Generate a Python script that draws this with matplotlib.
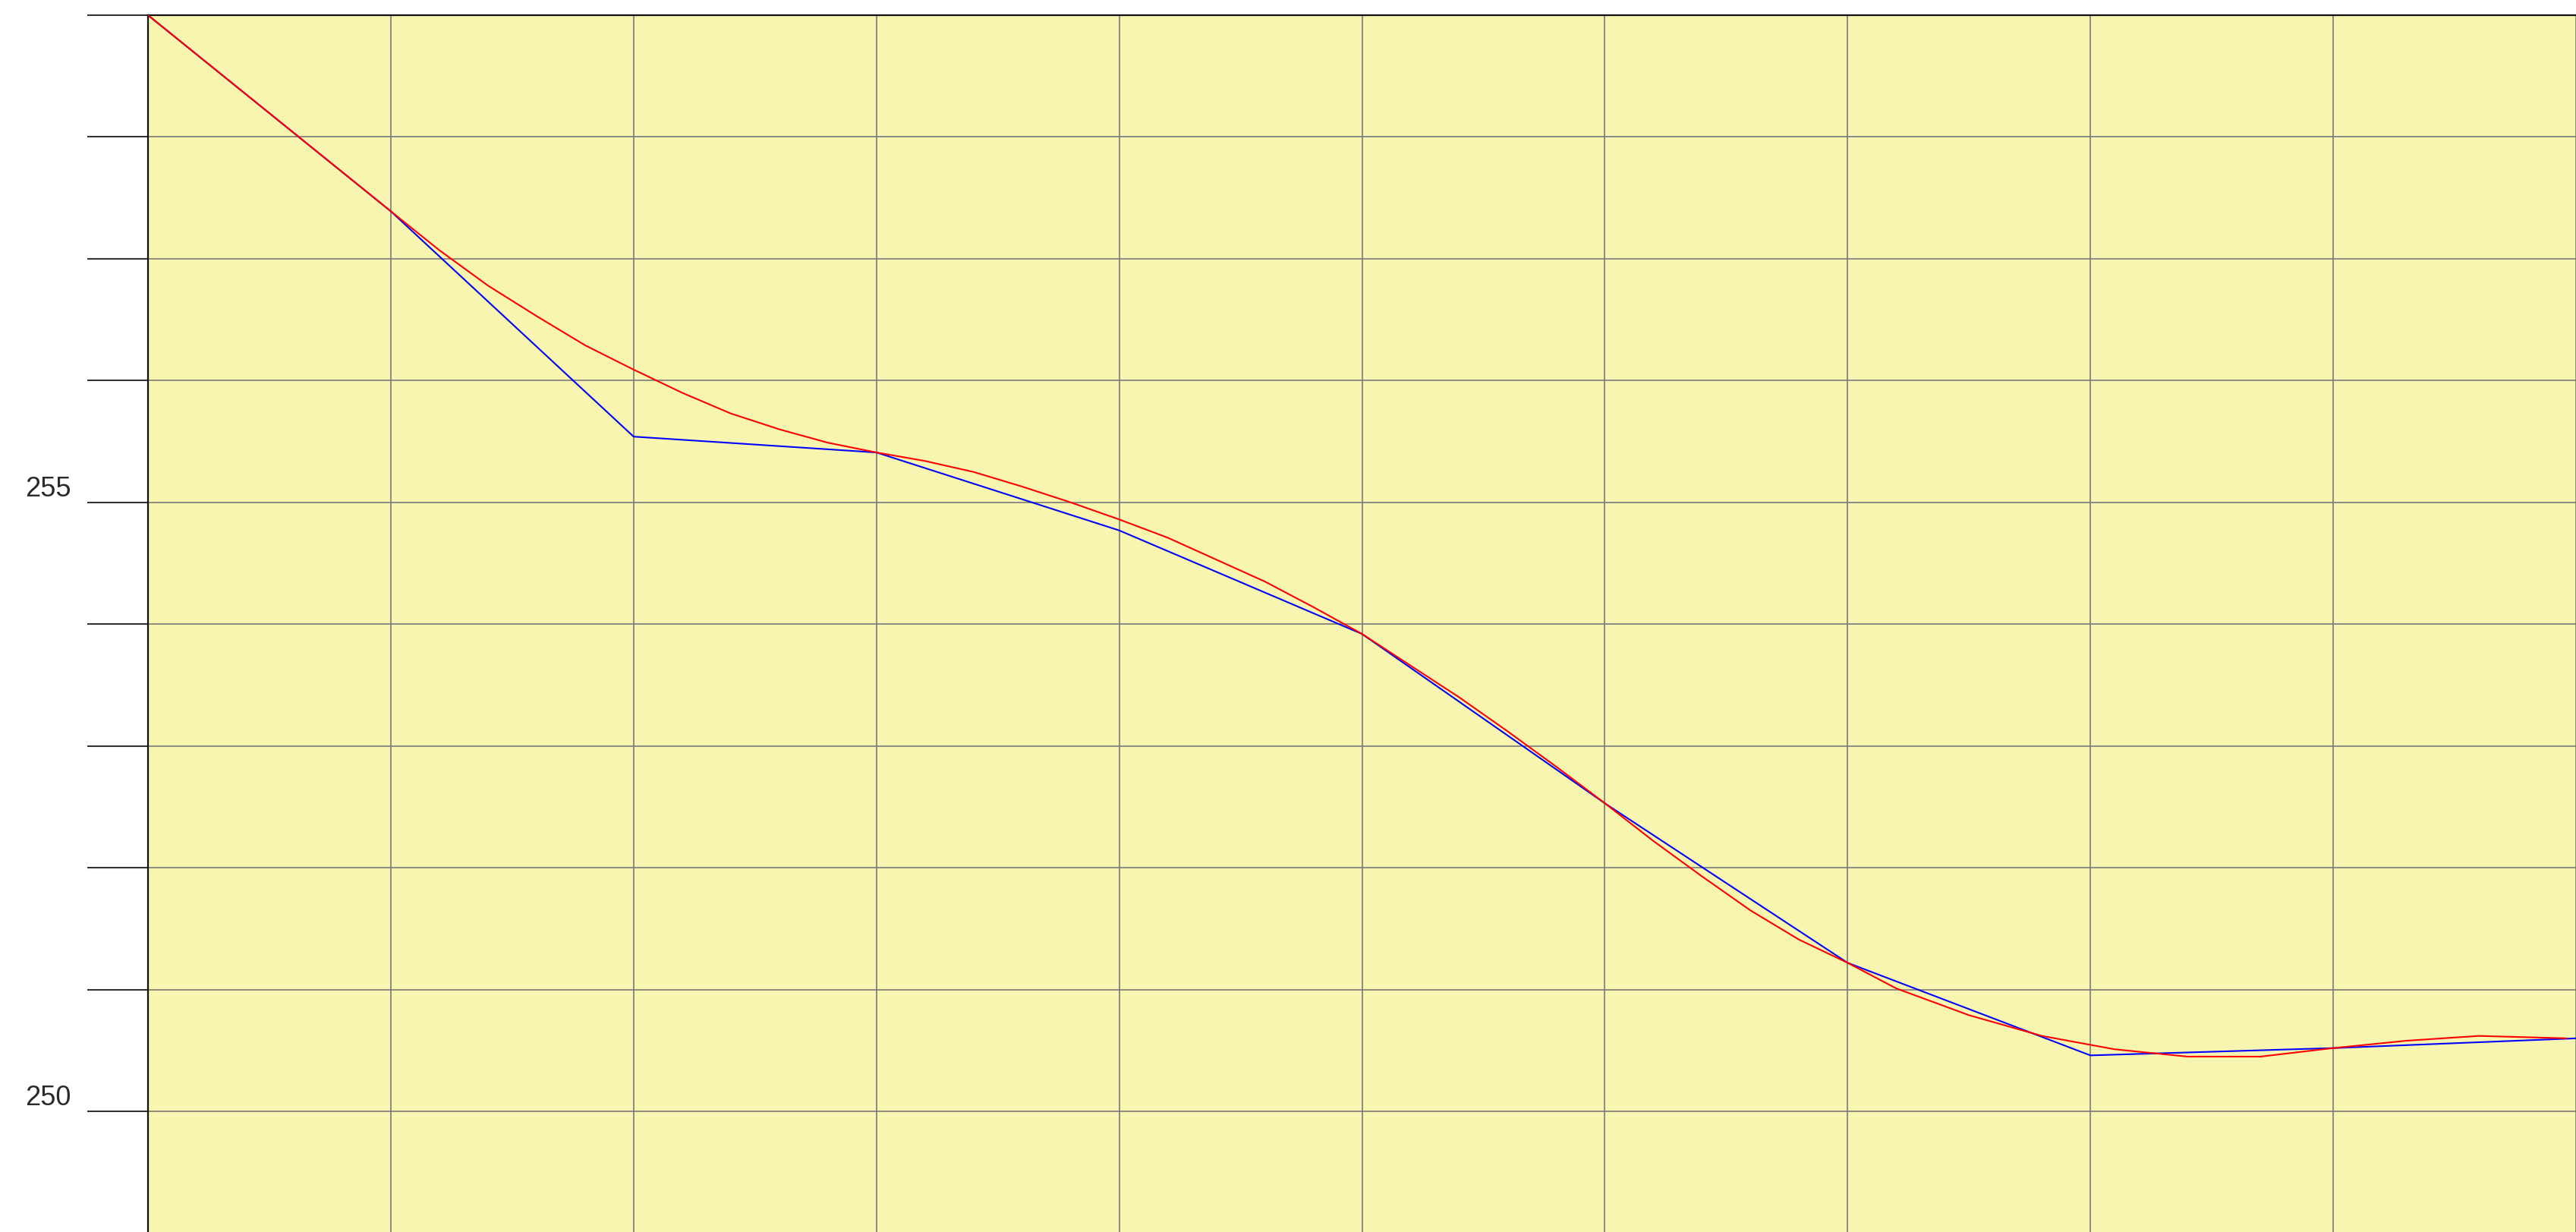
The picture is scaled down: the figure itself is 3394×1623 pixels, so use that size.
import numpy as np
import matplotlib as mat
mat.use("Agg")
from matplotlib import pyplot as plt
import matplotlib.transforms as mtrans

# blue series: one value per grid step
x_blue = [0, 1, 2, 3, 4, 5, 6, 7, 8, 9, 10]
y_blue = [259.0, 257.39, 255.54, 255.41, 254.77, 253.92, 252.53, 251.22, 250.46, 250.52, 250.60]

# red series: smoothed curve
x_red = [0, 1, 1.2, 1.4, 1.6, 1.8, 2.0, 2.2, 2.4, 2.6, 2.8, 3.0, 3.2, 3.4, 3.6, 3.8, 4.0,
         4.2, 4.4, 4.6, 4.8, 5.0, 5.2, 5.4, 5.6, 5.8, 6.0, 6.2, 6.4, 6.6, 6.8, 7.0,
         7.2, 7.5, 7.8, 8.1, 8.4, 8.7, 9.0, 9.3, 9.6, 9.96]
y_red = [259.0, 257.39, 257.07, 256.78, 256.53, 256.29, 256.09, 255.90, 255.73, 255.60, 255.49,
         255.41, 255.34, 255.25, 255.13, 255.00, 254.86, 254.71, 254.53, 254.35, 254.14,
         253.92, 253.66, 253.40, 253.12, 252.83, 252.53, 252.22, 251.93, 251.65, 251.41,
         251.22, 251.01, 250.79, 250.62, 250.51, 250.45, 250.45, 250.52, 250.58, 250.62, 250.60]

y_ticks = list(range(250, 260))
y_labels = [250, 255]

W, H = 3394, 1623
fig = plt.figure(figsize=(W / 100, H / 100), dpi=100)
ax = fig.add_axes([195 / W, 0, 1 - 195 / W, 1 - 20 / H])
ax.set_facecolor('#f8f5b1')

ax.set_xlim(0, 3199 / 321.1)
ax.set_ylim(249.01, 259.0)
ax.set_xticks(range(0, 11))
ax.set_yticks(y_ticks)
ax.grid(True, color='#7a7a7a', linewidth=1.2)
ax.set_axisbelow(True)

ax.tick_params(axis='x', length=0, labelbottom=False)
ax.tick_params(axis='y', direction='out', length=57.6, width=1.5, color='#333333', labelleft=False)

for side in ['right', 'bottom']:
    ax.spines[side].set_visible(False)
for side in ['left', 'top']:
    ax.spines[side].set_color('#111111')
    ax.spines[side].set_linewidth(1.6)

ax.plot(x_blue, y_blue, color='#0000ff', linewidth=1.5, zorder=3)
ax.plot(x_red, y_red, color='#ff0000', linewidth=1.5, zorder=4)

trans = mtrans.blended_transform_factory(ax.transAxes, ax.transData)
for v in y_labels:
    ax.text((33 - 195) / 3199, v + 0.05, str(v), transform=trans, ha='left', va='baseline',
            fontsize=26, color='#2a2a2a', family=['Liberation Sans', 'DejaVu Sans'])

plt.savefig('out.png', dpi=100)
plt.close('all')
